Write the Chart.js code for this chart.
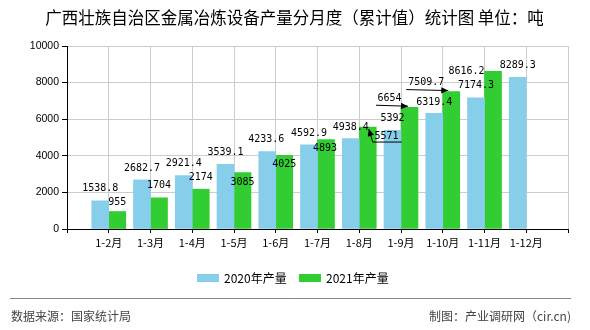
<!DOCTYPE html>
<html>
<head>
<meta charset="utf-8">
<script src="https://cdn.jsdelivr.net/npm/chart.js@4/dist/chart.umd.min.js"></script>
<style>
html,body{margin:0;padding:0;background:#fff;}
#wrap{width:590px;height:330px;position:relative;}
</style>
</head>
<body>
<div id="wrap"><canvas id="c" width="590" height="330"></canvas></div>
<script>
// ---- data ----
const categories = ['1-2月','1-3月','1-4月','1-5月','1-6月','1-7月','1-8月','1-9月','1-10月','1-11月','1-12月'];
const series2020 = [1538.8, 2682.7, 2921.4, 3539.1, 4233.6, 4592.9, 4938.4, 5392, 6319.4, 7174.3, 8289.3];
const series2021 = [955, 1704, 2174, 3085, 4025, 4893, 5571, 6654, 7509.7, 8616.2, null];
const seriesNames = ['2020年产量', '2021年产量'];
const yTicks = [0, 2000, 4000, 6000, 8000, 10000];
const titleText = '广西壮族自治区金属冶炼设备产量分月度（累计值）统计图 单位：吨';
const sourceText = '数据来源：国家统计局';
const makerText = '制图：产业调研网（cir.cn)';

// label placement (pixel offsets of label centre from bar top centre)
const labelOffsets2020 = [[0,-12],[0,-12],[0,-12],[0,-12],[-1,-12],[0,-12],[0,-11.5],[0,-12],[0,-11],[0,-12],[0,-12]];
const labelOffsets2021 = [[0,-9.5],[0,-12],[0,-12],[0,9.5],[0,9],[-1,9],[18.75,9],[-20,-9],[-25,-9],[-26.5,0],null];
// leader lines for some 2021 labels (points relative to bar top centre, arrow at last point)
const leaders2021 = {6: [[34,15],[5,15],[1,2]], 7: [[-33.5,-2],[-1.5,-1]], 8: [[-45,-2],[-3,-1]]};

// axis labels padded with empty slots at both ends
const axisLabels = [''].concat(categories).concat(['']);
const pad = arr => [null].concat(arr).concat([null]);

const colors = ['#87CEEB', '#32CD32'];
const gridColor = '#cccccc';

const decorPlugin = {
  id: 'decor',
  afterDatasetsDraw(chart) {
    const ctx = chart.ctx;
    ctx.save();
    ctx.font = '10px "DejaVu Sans Mono", "Liberation Mono", monospace';
    ctx.fillStyle = '#000';
    ctx.textAlign = 'center';
    ctx.textBaseline = 'middle';
    const offsetsAll = [labelOffsets2020, labelOffsets2021];
    const raw = [series2020, series2021];
    chart.data.datasets.forEach((ds, di) => {
      const meta = chart.getDatasetMeta(di);
      meta.data.forEach((bar, i) => {
        const k = i - 1;
        if (k < 0 || k >= categories.length) return;
        const v = raw[di][k];
        if (v === null || v === undefined) return;
        const off = offsetsAll[di][k];
        if (!off) return;
        const bx = bar.x, by = bar.y;
        ctx.fillText(String(v), bx + off[0], by + off[1]);
        if (di === 1 && leaders2021[k]) {
          const pts = leaders2021[k].map(p => [bx + p[0], by + p[1]]);
          ctx.strokeStyle = '#000';
          ctx.lineWidth = 1;
          ctx.beginPath();
          ctx.moveTo(pts[0][0], pts[0][1]);
          for (let j = 1; j < pts.length; j++) ctx.lineTo(pts[j][0], pts[j][1]);
          ctx.stroke();
          const a = pts[pts.length - 1], b = pts[pts.length - 2];
          const ang = Math.atan2(a[1] - b[1], a[0] - b[0]);
          const L = 7, W = 3.2;
          ctx.beginPath();
          ctx.moveTo(a[0], a[1]);
          ctx.lineTo(a[0] - L*Math.cos(ang) + W*Math.sin(ang), a[1] - L*Math.sin(ang) - W*Math.cos(ang));
          ctx.lineTo(a[0] - L*Math.cos(ang) - W*Math.sin(ang), a[1] - L*Math.sin(ang) + W*Math.cos(ang));
          ctx.closePath();
          ctx.fill();
        }
      });
    });
    ctx.restore();
  },
  afterDraw(chart) {
    const ctx = chart.ctx;
    ctx.save();
    // title
    ctx.fillStyle = '#000';
    ctx.textAlign = 'center';
    ctx.textBaseline = 'middle';
    ctx.font = '16.5px "Noto Sans CJK SC", sans-serif';
    ctx.fillText(titleText, 294.5, 17.5);
    // legend
    ctx.font = '12px "Noto Sans CJK SC", sans-serif';
    ctx.textAlign = 'left';
    const legendX = [197, 299];
    chart.data.datasets.forEach((ds, i) => {
      ctx.fillStyle = ds.backgroundColor;
      ctx.fillRect(legendX[i], 274, 22, 8);
      ctx.fillStyle = '#000';
      ctx.fillText(ds.label, legendX[i] + 27, 278);
    });
    // separator
    ctx.strokeStyle = '#888';
    ctx.lineWidth = 1;
    ctx.beginPath();
    ctx.moveTo(10, 298.5);
    ctx.lineTo(571, 298.5);
    ctx.stroke();
    // footer
    ctx.fillStyle = '#444';
    ctx.font = '12px "Noto Sans CJK SC", sans-serif';
    ctx.textAlign = 'left';
    ctx.fillText(sourceText, 11, 316);
    ctx.textAlign = 'right';
    ctx.fillText(makerText, 571, 316);
    ctx.restore();
  }
};

new Chart(document.getElementById('c'), {
  type: 'bar',
  data: {
    labels: axisLabels,
    datasets: [
      { label: seriesNames[0], data: pad(series2020), backgroundColor: colors[0], barThickness: 17 },
      { label: seriesNames[1], data: pad(series2021), backgroundColor: colors[1], barThickness: 17 }
    ]
  },
  options: {
    responsive: false,
    animation: false,
    devicePixelRatio: 1,
    layout: { padding: { left: 0, top: 46, right: 22, bottom: 71 } },
    plugins: {
      legend: { display: false },
      title: { display: false },
      tooltip: { enabled: false }
    },
    scales: {
      x: {
        type: 'category',
        offset: false,
        grid: { display: true, offset: false, color: gridColor, tickColor: '#000', drawTicks: true, tickLength: 4 },
        border: { display: true, color: '#000', width: 1 },
        ticks: { autoSkip: false, maxRotation: 0, padding: 3, color: '#000', font: { family: '"Noto Sans CJK SC", sans-serif', size: 11 } },
        afterFit(scale) { scale.height = 30; }
      },
      y: {
        min: 0, max: 10000,
        afterBuildTicks(scale) { scale.ticks = yTicks.map(v => ({ value: v })); },
        grid: { color: gridColor, tickColor: '#000', tickLength: 5 },
        border: { color: '#000', width: 1 },
        ticks: { padding: 3, color: '#000', callback: v => String(v), font: { family: '"Liberation Sans", sans-serif', size: 10.5 } },
        afterFit(scale) { scale.width = 67; }
      }
    }
  },
  plugins: [decorPlugin]
});
</script>
</body>
</html>
